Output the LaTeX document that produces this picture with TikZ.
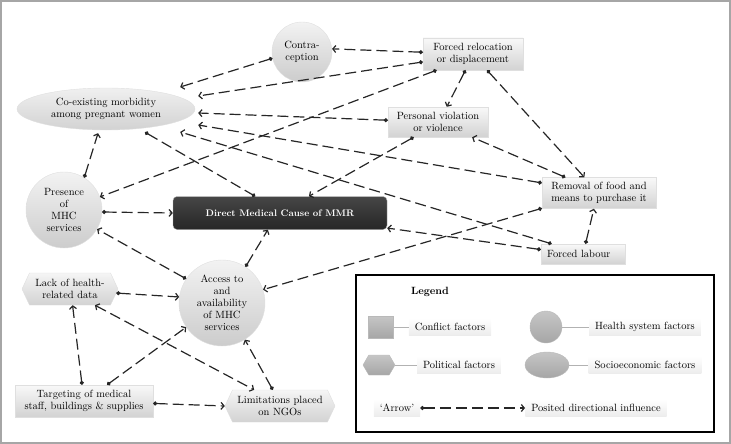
\documentclass[tikz,border=0pt]{standalone}
\usetikzlibrary{arrows.meta,shapes.geometric,shapes.symbols}
\begin{document}
\begin{tikzpicture}[x=1pt,y=-1pt,
    font=\fontsize{10.5}{12}\selectfont,
    dashline/.style={line width=1.2pt,black!85,dash pattern=on 11pt off 5pt},
    link/.style={dashline,{Circle[length=4pt]}-{Straight Barb[length=3pt,width=7pt]}},
    linkboth/.style={dashline,{Straight Barb[length=3pt,width=7pt]}-{Straight Barb[length=3pt,width=7pt]}},
    linkdots/.style={dashline,{Circle[length=4pt]}-{Circle[length=4pt]}},
    conflict/.style={rectangle,top color=gray!5,bottom color=gray!35,draw=gray!25,align=center,inner sep=2pt},
    health/.style={circle,top color=gray!10,bottom color=gray!40,draw=gray!25,align=center,inner sep=0pt},
    socio/.style={ellipse,top color=gray!12,bottom color=gray!35,draw=gray!25,align=center,inner sep=0pt},
    political/.style={signal,signal to=west and east,signal pointer angle=130,top color=gray!8,bottom color=gray!35,draw=gray!25,align=center,inner sep=2pt},
    mmrbox/.style={rectangle,rounded corners=4pt,top color=gray!55!black,bottom color=black!85,draw=gray!60,text=white,font=\fontsize{9.5}{12}\selectfont\bfseries,minimum width=214pt,minimum height=33pt},
    legfill/.style={top color=gray!45,bottom color=gray!70,draw=gray!55,inner sep=0pt},
    lab/.style={rectangle,top color=white,bottom color=gray!15,inner xsep=6pt,minimum height=17pt}]
\useasboundingbox (0,0) rectangle (731,444);
\draw[gray!70,line width=1.5pt] (1,1) rectangle (730,443);

\node[health,minimum size=60pt] (contra) at (302,52) {Contra-\\ception};
\node[conflict,minimum width=100pt,minimum height=32pt] (relo) at (473,54) {Forced relocation\\or displacement};
\node[socio,minimum width=178pt,minimum height=42pt] (coex) at (106,109) {Co-existing morbidity\\among pregnant women};
\node[conflict,minimum width=100pt,minimum height=30pt] (viol) at (438,122) {Personal violation\\or violence};
\node[conflict,minimum width=114pt,minimum height=31pt] (food) at (599,193) {Removal of food and\\means to purchase it};
\node[health,minimum size=76pt] (pres) at (64,210) {Presence\\of\\MHC\\services};
\node[mmrbox] (mmr) at (280,213) {Direct Medical Cause of MMR};
\node[conflict,align=left,text width=72pt,inner xsep=6pt,minimum height=20pt] (labour) at (583,254) {Forced labour};
\node[health,minimum size=86pt] (access) at (222,303) {Access to\\and\\availability\\of MHC\\services};
\node[political,minimum width=96pt,minimum height=32pt] (lack) at (70,289) {Lack of health-\\related data};
\node[conflict,minimum width=138pt,minimum height=32pt] (target) at (84,401) {Targeting of medical\\staff, buildings \& supplies};
\node[political,minimum width=110pt,minimum height=32pt] (ngo) at (280,406) {Limitations placed\\on NGOs};

\draw[link] (relo.178) -- (contra.6);
\draw[link] (contra.192) -- ([xshift=-15pt,yshift=22pt]coex.east);
\draw[link] (relo.189) -- ([xshift=3pt,yshift=13pt]coex.east);
\draw[link] (relo.204) -- (pres.20);
\draw[link] (viol.178) -- ([xshift=3pt,yshift=-4pt]coex.east);
\draw[link] (food.170) -- ([xshift=3pt,yshift=-16pt]coex.east);
\draw[link] (labour.162) -- ([xshift=-15pt,yshift=-23pt]coex.east);
\draw[linkdots] ([xshift=39pt,yshift=-2pt]coex.south) -- (mmr.146);
\draw[link] (food.195) -- (access.18);
\draw[link] (viol.212) -- (mmr.30);
\draw[link] (relo.245) -- (viol.60);
\draw[link] (relo.-49) -- (food.133);
\draw[link] (food.155) -- (viol.-24);
\draw[link] (labour.174) -- (mmr.-8);
\draw[link] (labour.76) -- (food.252);
\draw[link] (pres.-3) -- (mmr.west);
\draw[link] (pres.58) -- ([xshift=-8pt,yshift=-3pt]coex.south);
\draw[link] (access.57) -- (mmr.234);
\draw[link] (access.146) -- (pres.-30);
\draw[link] (lack.-5) -- (access.172);
\draw[link] (target.97) -- (lack.-81);
\draw[link] (target.35) -- (access.214);
\draw[linkboth] (lack.-33) -- (ngo.148);
\draw[link] (ngo.114) -- (access.-58);
\draw[link] (target.-2) -- (ngo.west);

\draw[line width=1.6pt] (356,275) rectangle (714,432);
\node[font=\fontsize{10.5}{12}\selectfont\bfseries] (legtitle) at (430,292) {Legend};
\node[legfill,rectangle,minimum width=25pt,minimum height=22pt] (kconf) at (381,327) {};
\node[legfill,circle,minimum size=32pt] (khealth) at (546,327) {};
\node[legfill,signal,signal to=west and east,signal pointer angle=120,minimum width=32pt,minimum height=20pt] (kpol) at (379,365) {};
\node[legfill,ellipse,minimum width=44pt,minimum height=26pt] (ksocio) at (547,365) {};
\node[lab] (lconf) at (450,327) {Conflict factors};
\node[lab] (lhealth) at (645,327) {Health system factors};
\node[lab] (lpol) at (459,365) {Political factors};
\node[lab] (lsocio) at (645,365) {Socioeconomic factors};
\draw[gray!60] (kconf) -- (lconf);
\draw[gray!60] (khealth) -- (lhealth);
\draw[gray!60] (kpol) -- (lpol);
\draw[gray!60] (ksocio) -- (lsocio);
\node[lab] (arw) at (397,408) {`Arrow'};
\node[lab] (posit) at (596,408) {Posited directional influence};
\draw[link] (arw.east) -- (posit.west);
\end{tikzpicture}
\end{document}
